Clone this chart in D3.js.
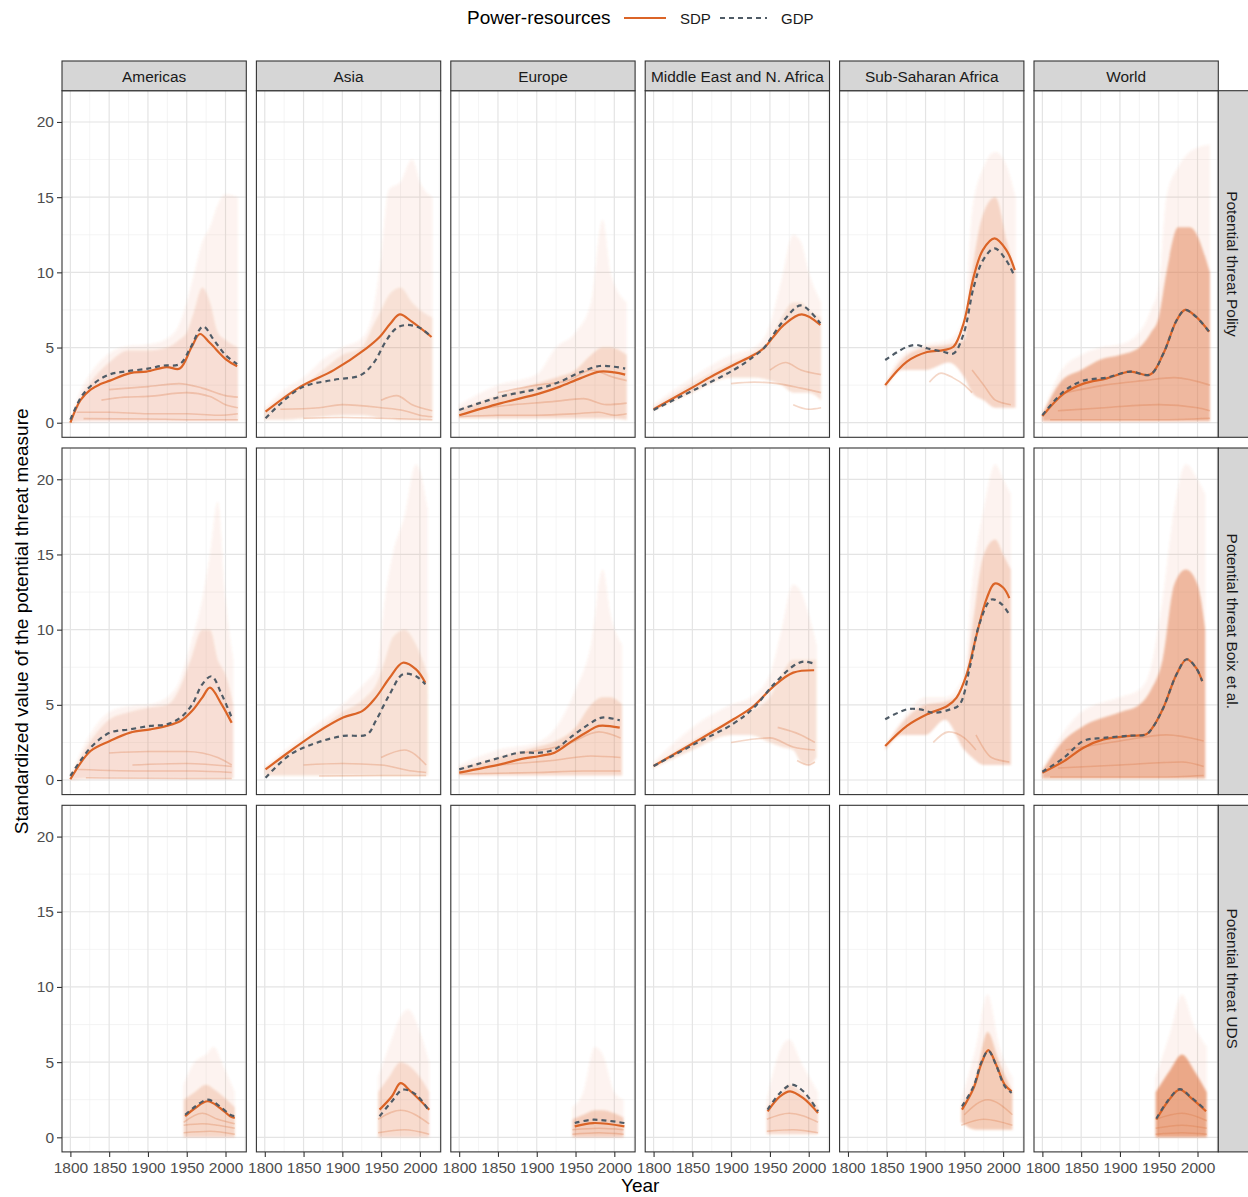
<!DOCTYPE html>
<html>
<head>
<meta charset="utf-8">
<script src="https://cdn.jsdelivr.net/npm/d3@7"></script>
<style>
  body { margin: 0; background: #fff; }
  svg { display: block; font-family: "Liberation Sans", Arial, sans-serif; }
</style>
</head>
<body>
<svg id="chart" width="1248" height="1197"></svg>
<script>
// facets
var regions = ['Americas', 'Asia', 'Europe', 'Middle East and N. Africa', 'Sub-Saharan Africa', 'World'];
var measures = ['Potential threat Polity', 'Potential threat Boix et al.', 'Potential threat UDS'];
var xTicks = [1800, 1850, 1900, 1950, 2000];
var yTicks = [0, 5, 10, 15, 20];
var legendLabels = ['SDP', 'GDP'];

// smoothed SDP / GDP curves, [year, value], one list per region
var sdpPolity = [
  [[1800,0.0],[1813,1.5],[1826,2.2],[1838,2.55],[1851,2.8],[1877,3.3],[1898,3.4],[1924,3.7],[1941,3.6],[1956,5.0],[1967,5.9],[1980,5.3],[2001,4.2],[2015,3.75]],
  [[1801,0.73],[1846,2.4],[1889,3.5],[1931,4.95],[1948,5.7],[1962,6.6],[1974,7.2],[1990,6.7],[2015,5.7]],
  [[1800,0.5],[1853,1.29],[1904,1.95],[1930,2.4],[1956,2.95],[1981,3.4],[2000,3.35],[2014,3.2]],
  [[1800,0.9],[1852,2.4],[1878,3.17],[1903,3.84],[1929,4.5],[1942,4.95],[1955,5.75],[1968,6.5],[1991,7.2],[2015,6.5]],
  [[1848,2.5],[1876,4.06],[1902,4.7],[1923,4.83],[1936,5.05],[1949,6.6],[1962,9.7],[1974,11.5],[1989,12.26],[2004,11.5],[2015,10.15]],
  [[1800,0.44],[1828,1.95],[1853,2.6],[1883,2.95],[1913,3.4],[1939,3.2],[1956,4.6],[1973,6.8],[1984,7.5],[1998,7.05],[2015,6.05]]
];
var gdpPolity = [
  [[1800,0.2],[1815,1.8],[1830,2.6],[1850,3.2],[1870,3.4],[1900,3.6],[1920,3.8],[1941,3.9],[1955,5.0],[1971,6.4],[1985,5.5],[2000,4.5],[2015,3.9]],
  [[1801,0.3],[1846,2.3],[1889,2.85],[1923,3.15],[1940,3.95],[1957,5.5],[1970,6.3],[1983,6.5],[2000,6.3],[2015,5.7]],
  [[1800,0.85],[1853,1.73],[1904,2.28],[1930,2.73],[1956,3.35],[1981,3.77],[2000,3.72],[2014,3.6]],
  [[1800,0.85],[1852,2.17],[1903,3.5],[1929,4.4],[1942,4.95],[1955,5.9],[1968,6.8],[1990,7.8],[2015,6.6]],
  [[1848,4.17],[1876,5.05],[1889,5.17],[1902,4.95],[1923,4.72],[1936,4.6],[1949,5.9],[1962,9.0],[1974,10.8],[1989,11.6],[2004,10.8],[2015,9.7]],
  [[1800,0.5],[1828,2.1],[1853,2.8],[1883,3.0],[1913,3.4],[1939,3.2],[1956,4.6],[1973,6.8],[1984,7.5],[1998,7.05],[2015,6.05]]
];
var sdpBoix = [
  [[1800,0.05],[1826,1.93],[1851,2.6],[1877,3.15],[1903,3.37],[1924,3.6],[1942,3.92],[1957,4.6],[1970,5.48],[1980,6.14],[1995,5.03],[2008,3.8]],
  [[1801,0.7],[1833,1.93],[1867,3.15],[1901,4.15],[1926,4.6],[1943,5.48],[1961,6.8],[1978,7.8],[1995,7.36],[2007,6.47]],
  [[1800,0.49],[1853,1.04],[1878,1.37],[1904,1.6],[1923,1.82],[1946,2.6],[1967,3.26],[1980,3.6],[2007,3.48]],
  [[1800,0.93],[1852,2.48],[1903,4.04],[1929,4.92],[1955,6.25],[1980,7.14],[2007,7.3]],
  [[1848,2.26],[1876,3.6],[1902,4.37],[1928,4.92],[1940,5.48],[1953,7.03],[1966,9.7],[1979,12.1],[1989,13.06],[2000,12.8],[2008,12.1]],
  [[1800,0.49],[1828,1.26],[1853,2.15],[1879,2.7],[1913,2.93],[1934,3.04],[1942,3.48],[1956,4.81],[1973,7.03],[1986,8.03],[1998,7.47],[2006,6.58]]
];
var gdpBoix = [
  [[1800,0.27],[1826,2.15],[1851,3.15],[1877,3.37],[1903,3.6],[1924,3.7],[1942,4.15],[1957,5.03],[1970,6.36],[1982,6.9],[1995,5.7],[2008,4.15]],
  [[1801,0.15],[1833,1.7],[1867,2.48],[1901,2.93],[1932,3.04],[1943,3.92],[1961,5.7],[1978,7.03],[1995,6.9],[2007,6.36]],
  [[1800,0.71],[1853,1.49],[1878,1.82],[1904,1.82],[1923,2.04],[1946,2.93],[1967,3.7],[1984,4.15],[2007,3.97]],
  [[1800,0.93],[1852,2.37],[1903,3.75],[1929,4.8],[1955,6.36],[1980,7.58],[1993,7.87],[2007,7.74]],
  [[1848,4.04],[1876,4.7],[1893,4.7],[1910,4.48],[1932,4.7],[1944,5.03],[1957,7.47],[1970,10.47],[1985,12.0],[1998,11.7],[2008,11.0]],
  [[1800,0.55],[1828,1.49],[1853,2.6],[1879,2.8],[1913,2.95],[1934,3.04],[1942,3.48],[1956,4.81],[1973,7.03],[1986,8.03],[1998,7.47],[2006,6.58]]
];
var sdpUds = [
  [[1948,1.4],[1961,1.95],[1977,2.4],[1993,1.95],[2006,1.4],[2012,1.29]],
  [[1948,1.84],[1964,2.73],[1975,3.6],[1988,3.06],[2012,1.84]],
  [[1949,0.73],[1973,0.95],[2013,0.73]],
  [[1947,1.73],[1963,2.73],[1976,3.06],[1993,2.6],[2012,1.62]],
  [[1947,1.84],[1962,3.28],[1972,4.9],[1981,5.8],[1991,4.83],[2002,3.5],[2011,3.06]],
  [[1947,1.18],[1962,2.4],[1977,3.17],[1992,2.6],[2011,1.73]]
];
var gdpUds = [
  [[1948,1.5],[1961,2.05],[1977,2.5],[1993,2.05],[2006,1.5],[2012,1.4]],
  [[1948,1.4],[1964,2.4],[1978,3.17],[1995,2.84],[2012,1.73]],
  [[1949,0.95],[1973,1.17],[2013,0.95]],
  [[1947,1.84],[1963,2.95],[1978,3.5],[1993,3.06],[2012,1.73]],
  [[1947,2.06],[1962,3.4],[1972,5.0],[1981,5.75],[1991,4.8],[2002,3.4],[2011,2.95]],
  [[1947,1.25],[1962,2.45],[1977,3.2],[1992,2.65],[2011,1.8]]
];

// spread of the country series: [year, lowest, top of dense part, highest]
var cloudPolity = [
  [[1800,0.0,0.1,0.3],[1812,0.1,1.5,2.0],[1825,0.1,2.6,3.2],[1850,0.1,4.0,4.6],[1875,0.1,4.8,5.1],[1900,0.1,4.8,5.2],[1925,0.1,5.0,5.6],[1940,0.1,5.5,6.5],[1950,0.1,6.0,8.0],[1960,0.1,7.5,10.0],[1970,0.1,9.0,12.0],[1980,0.1,8.0,13.0],[1990,0.1,6.0,14.5],[2000,0.1,5.5,15.2],[2016,0.1,5.0,15.0]],
  [[1800,0.2,0.8,1.0],[1825,0.2,1.8,2.2],[1850,0.3,2.5,3.0],[1875,0.4,3.5,4.2],[1900,0.5,4.5,5.0],[1925,0.5,5.0,5.6],[1940,0.4,6.5,7.5],[1950,0.3,7.5,11.0],[1960,0.3,8.5,15.5],[1975,0.2,9.0,16.0],[1990,0.2,8.0,17.5],[2000,0.2,7.5,16.0],[2016,0.2,7.0,15.0]],
  [[1800,0.3,0.9,1.2],[1850,0.3,1.8,2.5],[1900,0.3,2.6,3.2],[1925,0.3,3.0,5.0],[1950,0.3,3.5,6.0],[1970,0.3,4.5,8.0],[1985,0.3,5.0,13.5],[1995,0.3,5.0,10.0],[2016,0.2,4.5,8.0]],
  [[1800,0.8,1.0,1.2],[1850,2.0,2.6,3.0],[1900,3.0,4.0,4.5],[1930,3.0,4.7,5.0],[1950,2.8,5.5,6.5],[1965,2.5,7.0,9.5],[1980,2.0,8.0,12.5],[1990,2.0,8.0,12.0],[2000,2.0,7.5,10.0],[2016,1.5,7.0,8.0]],
  [[1848,2.3,2.5,2.6],[1870,3.5,4.2,4.5],[1900,3.5,5.0,5.2],[1930,4.0,5.2,5.5],[1950,3.0,5.5,7.0],[1960,2.0,10.0,14.0],[1975,1.5,14.0,17.0],[1990,1.0,15.0,18.0],[2005,1.0,12.0,17.0],[2016,1.0,10.0,15.0]],
  [[1800,0.1,0.5,0.6],[1825,0.1,2.8,3.5],[1850,0.1,3.5,4.5],[1875,0.1,4.2,5.0],[1900,0.1,4.5,5.2],[1925,0.1,5.0,6.0],[1940,0.1,6.0,7.5],[1950,0.1,7.0,9.0],[1960,0.1,10.0,15.0],[1975,0.1,13.0,17.0],[1990,0.1,13.0,18.0],[2016,0.1,10.0,18.5]]
];
var cloudBoix = [
  [[1800,0.0,0.2,0.3],[1825,0.1,2.5,3.0],[1850,0.1,4.0,4.5],[1875,0.1,4.5,4.9],[1900,0.1,4.8,5.0],[1925,0.1,5.0,5.5],[1940,0.1,6.0,6.5],[1955,0.1,8.0,9.0],[1970,0.1,10.0,12.0],[1980,0.1,10.0,15.0],[1990,0.1,8.0,18.5],[2000,0.1,7.0,12.0],[2010,0.1,5.0,8.0]],
  [[1800,0.3,0.8,0.9],[1850,0.3,2.6,3.0],[1900,0.3,4.5,5.0],[1930,0.3,5.5,6.5],[1945,0.3,6.5,7.5],[1955,0.3,8.0,12.0],[1965,0.3,9.5,15.0],[1980,0.3,10.0,17.5],[1995,0.3,9.0,21.0],[2010,0.3,7.0,18.0]],
  [[1800,0.3,0.8,1.0],[1850,0.3,1.5,2.0],[1900,0.3,2.2,2.5],[1925,0.3,2.6,3.5],[1950,0.3,3.5,6.0],[1970,0.3,5.0,9.0],[1985,0.3,5.5,14.0],[1995,0.3,5.5,11.0],[2010,0.3,5.0,9.0]],
  [[1800,0.8,1.0,1.2],[1850,2.0,2.6,3.5],[1900,3.0,4.0,5.0],[1925,3.0,4.6,5.5],[1950,2.5,5.5,7.0],[1965,2.2,7.0,10.0],[1980,2.0,8.0,13.0],[1990,1.2,8.0,12.5],[2000,1.0,8.0,11.0],[2010,1.5,8.0,9.0]],
  [[1848,2.0,2.2,2.3],[1870,3.0,3.8,4.0],[1900,3.0,5.0,5.5],[1925,4.0,5.2,5.5],[1950,2.0,6.0,7.0],[1960,1.5,10.0,13.0],[1975,1.0,15.0,18.0],[1990,1.0,16.0,21.0],[2000,1.0,15.0,20.0],[2010,1.0,14.0,19.0]],
  [[1800,0.1,0.6,0.8],[1825,0.1,2.5,3.0],[1850,0.1,3.5,4.5],[1900,0.1,4.5,5.5],[1925,0.1,5.0,6.0],[1940,0.1,6.0,7.5],[1955,0.1,8.0,12.0],[1970,0.1,13.0,18.0],[1985,0.1,14.0,21.0],[2000,0.1,13.0,20.0],[2010,0.1,10.0,19.0]]
];
var cloudUds = [
  [[1946,0.0,2.5,3.5],[1960,0.0,3.0,5.0],[1975,0.0,3.5,5.5],[1985,0.0,3.2,6.0],[1995,0.0,2.8,5.0],[2012,0.0,2.0,3.0]],
  [[1946,0.0,3.0,4.0],[1960,0.0,4.0,6.0],[1975,0.0,5.0,8.0],[1985,0.0,4.8,8.5],[2000,0.0,4.0,7.0],[2012,0.0,3.0,5.0]],
  [[1946,0.0,1.2,2.0],[1960,0.0,1.5,3.0],[1975,0.0,1.8,6.0],[1985,0.0,1.8,5.5],[2000,0.0,1.6,3.0],[2012,0.0,1.3,2.5]],
  [[1946,0.2,2.0,2.5],[1965,0.2,3.0,6.0],[1975,0.2,3.5,6.5],[1990,0.2,3.0,5.0],[2012,0.2,2.0,3.0]],
  [[1946,1.0,2.0,2.5],[1965,0.5,4.0,6.0],[1980,0.5,7.0,9.5],[1995,0.5,5.0,6.0],[2012,0.5,3.0,4.0]],
  [[1946,0.0,3.0,4.0],[1965,0.0,4.5,7.0],[1980,0.0,5.5,9.5],[1995,0.0,4.5,7.5],[2012,0.0,3.0,6.0]]
];

// a few single country lines that stand out of the cloud, [year, value]
var tracesPolity = [
  [[[1817,0.27],[1900,0.25],[1950,0.2],[2016,0.2]], [[1808,0.7],[1850,0.7],[1900,0.6],[1950,0.6],[1990,0.5],[2016,0.6]],
   [[1840,1.5],[1870,1.7],[1900,1.75],[1950,2.0],[1980,1.75],[2000,1.2],[2016,1.0]], [[1850,2.2],[1900,2.4],[1940,2.6],[1970,2.3],[2000,1.8],[2016,1.7]]],
  [[[1820,0.9],[1870,1.0],[1900,1.2],[1950,1.0],[1980,0.8],[2000,0.5],[2016,0.4]], [[1850,0.3],[1900,0.35],[1950,0.3],[2016,0.2]],
   [[1950,1.5],[1970,1.8],[1990,1.2],[2016,0.8]]],
  [[[1800,0.4],[1850,0.5],[1900,0.5],[1950,0.6],[1980,0.7],[2000,0.5],[2016,0.6]], [[1820,0.9],[1870,1.2],[1920,1.4],[1960,1.6],[1990,1.2],[2016,1.3]],
   [[1850,2.0],[1900,2.5],[1940,2.8],[1970,3.5],[2000,3.0],[2016,2.8]]],
  [[[1900,2.6],[1930,2.7],[1960,2.6],[1990,2.3],[2016,2.0]], [[1950,3.5],[1970,4.0],[1990,3.5],[2016,3.2]], [[1980,1.2],[2000,0.9],[2016,1.0]]],
  [[[1905,2.7],[1920,3.3],[1935,3.0],[1950,2.5],[1960,2.0]], [[1960,3.5],[1975,2.5],[1990,1.5],[2010,1.2]]],
  [[[1810,0.2],[1900,0.2],[1950,0.2],[2016,0.3]], [[1820,0.8],[1880,1.0],[1950,1.2],[2000,1.0],[2016,0.8]],
   [[1830,2.0],[1880,2.5],[1930,2.8],[1970,3.0],[2016,2.5]]]
];
var tracesBoix = [
  [[[1820,0.15],[1950,0.1],[2008,0.1]], [[1810,0.7],[1900,0.6],[1960,0.6],[2008,0.5]],
   [[1850,1.8],[1900,1.9],[1950,1.9],[1990,1.5],[2008,1.0]], [[1880,1.0],[1950,1.1],[2008,0.9]]],
  [[[1850,1.0],[1900,1.1],[1950,1.0],[1990,0.6],[2008,0.5]], [[1870,0.27],[1950,0.3],[2008,0.3]], [[1950,1.5],[1980,2.0],[2008,1.0]]],
  [[[1800,0.4],[1900,0.5],[1960,0.6],[2008,0.6]], [[1850,1.0],[1920,1.3],[1970,1.6],[2008,1.5]], [[1880,1.8],[1940,2.4],[1980,3.2],[2008,2.8]]],
  [[[1900,2.5],[1950,2.8],[1980,2.2],[2008,2.0]], [[1960,3.5],[1990,3.0],[2008,2.5]], [[1985,1.3],[2000,1.0],[2008,1.2]]],
  [[[1910,2.5],[1930,3.2],[1950,2.8],[1965,2.0]], [[1965,3.0],[1985,1.5],[2008,1.2]]],
  [[[1810,0.2],[1950,0.2],[2008,0.3]], [[1820,0.8],[1900,1.0],[1980,1.2],[2008,0.9]], [[1830,2.0],[1900,2.6],[1960,3.0],[2008,2.6]]]
];
var tracesUds = [
  [[[1946,0.3],[1980,0.4],[2012,0.2]], [[1946,0.8],[1970,0.9],[1990,0.8],[2012,0.6]], [[1946,1.0],[1970,1.6],[1990,1.2],[2012,0.9]]],
  [[[1946,0.3],[1980,0.5],[2012,0.2]], [[1946,1.2],[1975,1.8],[2012,0.9]]],
  [[[1946,0.2],[1980,0.3],[2012,0.2]], [[1946,0.5],[1980,0.6],[2012,0.5]]],
  [[[1946,0.4],[1980,0.5],[2012,0.3]], [[1946,1.2],[1975,1.6],[2012,1.0]]],
  [[[1946,0.8],[1975,1.2],[2012,0.8]], [[1950,1.5],[1980,2.5],[2012,1.5]]],
  [[[1946,0.2],[1980,0.3],[2012,0.2]], [[1946,0.6],[1980,0.8],[2012,0.6]], [[1946,1.2],[1980,1.6],[2012,1.1]]]
];

var sdpRows = [sdpPolity, sdpBoix, sdpUds];
var gdpRows = [gdpPolity, gdpBoix, gdpUds];
var cloudRows = [cloudPolity, cloudBoix, cloudUds];
var traceRows = [tracesPolity, tracesBoix, tracesUds];
// how dense the country lines look in each region column / measure row
var coreAlpha = [0.17, 0.15, 0.22, 0.15, 0.24, 0.48];
var rowBoost = [1, 1, 1.35];

var sdpColor = '#db6427';
var gdpColor = '#4f5b66';
var cloudColor = '#e07745';
var traceColor = '#d86a35';

var svg = d3.select('#chart');
var left0 = 62, pw = 184.3, colStep = 194.4;
var top0 = 90.7, ph = 346.6, rowStep = 357.3;

var x = d3.scaleLinear().domain([1789.2, 2026.8]).range([0, pw]);
var y = d3.scaleLinear().domain([-0.97, 22.08]).range([ph, 0]);

var defs = svg.append('defs');
defs.append('filter').attr('id', 'soft')
  .attr('x', '-5%').attr('y', '-5%').attr('width', '110%').attr('height', '110%')
  .append('feGaussianBlur').attr('stdDeviation', 1.3);
defs.append('filter').attr('id', 'softer')
  .attr('x', '-5%').attr('y', '-20%').attr('width', '110%').attr('height', '140%')
  .append('feGaussianBlur').attr('stdDeviation', 0.7);
defs.append('clipPath').attr('id', 'panelClip')
  .append('rect').attr('width', pw).attr('height', ph);

var smooth = d3.line()
  .x(function(d) { return x(d[0]); })
  .y(function(d) { return y(d[1]); })
  .curve(d3.curveCatmullRom.alpha(0.5));

var trace = d3.line()
  .x(function(d) { return x(d[0]); })
  .y(function(d) { return y(d[1]); })
  .curve(d3.curveMonotoneX);

var outerArea = d3.area()
  .x(function(d) { return x(d[0]); })
  .y0(function(d) { return y(d[1]); })
  .y1(function(d) { return y(d[3]); })
  .curve(d3.curveMonotoneX);

var coreArea = d3.area()
  .x(function(d) { return x(d[0]); })
  .y0(function(d) { return y(d[1]); })
  .y1(function(d) { return y(d[2]); })
  .curve(d3.curveMonotoneX);

var minorX = [1825, 1875, 1925, 1975, 2025];
var minorY = [2.5, 7.5, 12.5, 17.5];

measures.forEach(function(m, r) {
  regions.forEach(function(reg, c) {
    var g = svg.append('g')
      .attr('transform', 'translate(' + (left0 + c * colStep) + ',' + (top0 + r * rowStep) + ')');

    // grid
    var grid = g.append('g');
    grid.selectAll('.mx').data(minorX).enter().append('line')
      .attr('x1', x).attr('x2', x).attr('y1', 0).attr('y2', ph)
      .attr('stroke', '#efefef').attr('stroke-width', 0.7);
    grid.selectAll('.my').data(minorY).enter().append('line')
      .attr('y1', y).attr('y2', y).attr('x1', 0).attr('x2', pw)
      .attr('stroke', '#efefef').attr('stroke-width', 0.7);
    grid.selectAll('.gx').data(xTicks).enter().append('line')
      .attr('x1', x).attr('x2', x).attr('y1', 0).attr('y2', ph)
      .attr('stroke', '#e4e4e4').attr('stroke-width', 1.2);
    grid.selectAll('.gy').data(yTicks).enter().append('line')
      .attr('y1', y).attr('y2', y).attr('x1', 0).attr('x2', pw)
      .attr('stroke', '#e4e4e4').attr('stroke-width', 1.2);

    var inner = g.append('g').attr('clip-path', 'url(#panelClip)');

    // country series spread
    var cloud = cloudRows[r][c];
    var cg = inner.append('g').attr('filter', 'url(#soft)');
    cg.append('path').attr('d', outerArea(cloud))
      .attr('fill', cloudColor).attr('fill-opacity', 0.08);
    cg.append('path').attr('d', coreArea(cloud))
      .attr('fill', cloudColor).attr('fill-opacity', Math.min(0.6, coreAlpha[c] * rowBoost[r]));

    inner.append('g').attr('filter', 'url(#softer)')
      .selectAll('path').data(traceRows[r][c]).enter().append('path')
      .attr('d', trace)
      .attr('fill', 'none').attr('stroke', traceColor)
      .attr('stroke-opacity', 0.28).attr('stroke-width', 1.6);

    // smoothed curves
    inner.append('path').attr('d', smooth(sdpRows[r][c]))
      .attr('fill', 'none').attr('stroke', sdpColor).attr('stroke-width', 2.2);
    inner.append('path').attr('d', smooth(gdpRows[r][c]))
      .attr('fill', 'none').attr('stroke', gdpColor).attr('stroke-width', 2.2)
      .attr('stroke-dasharray', '5,4');

    g.append('rect').attr('width', pw).attr('height', ph)
      .attr('fill', 'none').attr('stroke', '#333').attr('stroke-width', 1.1);

    if (c === 0) {
      var ya = g.append('g').call(d3.axisLeft(y).tickValues(yTicks).tickSize(5).tickPadding(3));
      styleAxis(ya);
    }
    if (r === measures.length - 1) {
      var xa = g.append('g').attr('transform', 'translate(0,' + ph + ')')
        .call(d3.axisBottom(x).tickValues(xTicks).tickFormat(d3.format('d')).tickSize(5).tickPadding(5));
      styleAxis(xa);
    }
  });
});

function styleAxis(a) {
  a.select('.domain').remove();
  a.selectAll('line').attr('stroke', '#333').attr('stroke-width', 1.1);
  a.selectAll('text').attr('fill', '#4d4d4d').style('font-size', '15.5px')
    .style('font-family', '"Liberation Sans", Arial, sans-serif');
}

// column strips
regions.forEach(function(reg, c) {
  var sx = left0 + c * colStep;
  svg.append('rect').attr('x', sx).attr('y', 61).attr('width', pw).attr('height', top0 - 61)
    .attr('fill', '#d6d6d6').attr('stroke', '#333').attr('stroke-width', 1.1);
  svg.append('text').attr('x', sx + pw / 2).attr('y', 81.5)
    .attr('text-anchor', 'middle').attr('fill', '#1a1a1a').style('font-size', '15.4px').text(reg);
});

// row strips
measures.forEach(function(m, r) {
  var sy = top0 + r * rowStep;
  var sx = left0 + 5 * colStep + pw;
  svg.append('rect').attr('x', sx).attr('y', sy).attr('width', 40).attr('height', ph)
    .attr('fill', '#d6d6d6').attr('stroke', '#333').attr('stroke-width', 1.1);
  svg.append('text')
    .attr('transform', 'translate(' + (sx + 14.5) + ',' + (sy + ph / 2) + ') rotate(90)')
    .attr('text-anchor', 'middle').attr('dominant-baseline', 'central')
    .attr('fill', '#1a1a1a').style('font-size', '15.4px').text(m);
});

// axis titles
svg.append('text').attr('x', left0 + (5 * colStep + pw) / 2).attr('y', 1192)
  .attr('text-anchor', 'middle').attr('fill', '#000').style('font-size', '19px').text('Year');
svg.append('text')
  .attr('transform', 'translate(28,' + (top0 + (2 * rowStep + ph) / 2) + ') rotate(-90)')
  .attr('text-anchor', 'middle').attr('fill', '#000').style('font-size', '19px')
  .text('Standardized value of the potential threat measure');

// legend
var lg = svg.append('g');
lg.append('text').attr('x', 467).attr('y', 24).attr('fill', '#000').style('font-size', '19px').text('Power-resources');
lg.append('line').attr('x1', 624).attr('x2', 666).attr('y1', 18).attr('y2', 18)
  .attr('stroke', sdpColor).attr('stroke-width', 2.2);
lg.append('text').attr('x', 680).attr('y', 23.5).attr('fill', '#1a1a1a').style('font-size', '15px').text(legendLabels[0]);
lg.append('line').attr('x1', 720).attr('x2', 767).attr('y1', 18).attr('y2', 18)
  .attr('stroke', gdpColor).attr('stroke-width', 2.2).attr('stroke-dasharray', '5,4');
lg.append('text').attr('x', 781).attr('y', 23.5).attr('fill', '#1a1a1a').style('font-size', '15px').text(legendLabels[1]);
</script>
</body>
</html>
